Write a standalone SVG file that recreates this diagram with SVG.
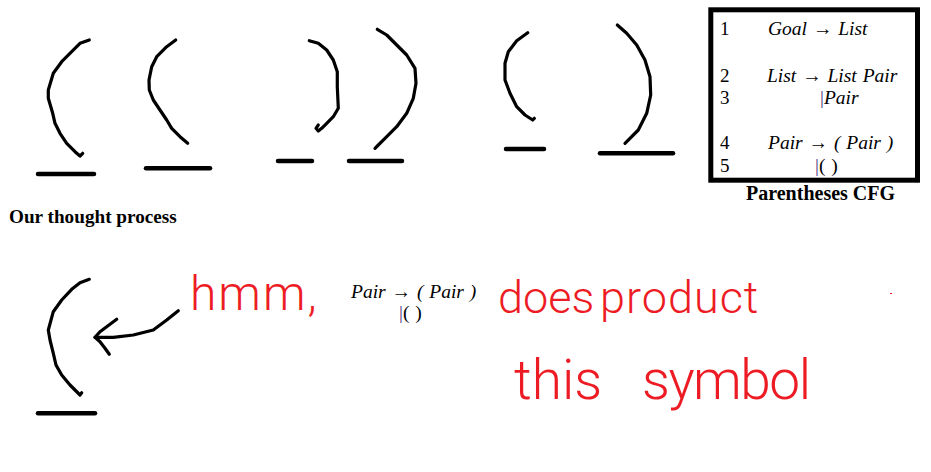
<svg xmlns="http://www.w3.org/2000/svg" width="931" height="472" viewBox="0 0 931 472">
<style>
.stroke{fill:none;stroke:#000;stroke-width:3.2;stroke-linecap:round;stroke-linejoin:round}
.bar{stroke:#000;stroke-width:4.5;stroke-linecap:round}
.serif{font-family:"Liberation Serif","Times New Roman",serif;fill:#000}
.num{font-size:19px}
.rule{font-size:19.5px;font-style:italic;word-spacing:1px}
.pipe{fill:#4b2e83;font-style:normal}
.title{font-weight:bold}
.hand{font-family:Roboto,"Liberation Sans","DejaVu Sans",sans-serif;font-weight:300;fill:#ed1c24}
</style>
<rect width="931" height="472" fill="#fff"/>

<g id="sketch-row">
  <polyline class="stroke" points="89.3,40 80,43.3 71.7,51.7 61.7,61.7 53.3,73.3 48.3,90 48.3,98.3 52.7,113.3 55,123.3 60,133.3 66.7,143.3 75,151.7 80,156 82.7,153.3"/>
  <line class="bar" x1="38" y1="174" x2="94" y2="174"/>
  <polyline class="stroke" points="175.7,40 166.7,46.7 156.7,56.7 151.7,66.7 149,80 149.3,90 153.3,100 160,110 166.7,120 171.7,128.3 180,136.7 187.7,143.3"/>
  <line class="bar" x1="146" y1="168.3" x2="210" y2="168.3"/>
  <polyline class="stroke" points="309.3,40.7 318.3,43.3 326.7,50 333.3,60 337.3,71.7 337.3,86.7 338.3,108.3 333.3,116.7 326.7,123.3 321.7,128.3 318.3,131 316,128.3 318.3,125"/>
  <line class="bar" x1="278" y1="161" x2="312" y2="161"/>
  <polyline class="stroke" points="377.3,29.3 386.7,35 396.7,45 406.7,55 415,68.3 416,83.3 413.3,98.3 406.7,113.3 396.7,126.7 385,138.3 378.3,145 375,148.3"/>
  <line class="bar" x1="349" y1="161" x2="402" y2="161"/>
  <polyline class="stroke" points="527.7,32.7 516.7,40.7 508.3,51.7 505,63.3 505,80 510,93.3 516.7,106.7 525,115 532.7,120 534.3,118.3"/>
  <line class="bar" x1="506" y1="149" x2="544" y2="149"/>
  <polyline class="stroke" points="617.3,25 626.7,33.3 636.7,45 645,60 650,76.7 650.7,95 646.7,113.3 638.3,130 625,143.3"/>
  <line class="bar" x1="600" y1="153.3" x2="673" y2="153.3"/>
</g>

<g id="cfg-box">
  <rect x="710.8" y="9.8" width="206.7" height="170.4" fill="none" stroke="#000" stroke-width="5"/>
  <text class="serif num" x="720" y="35">1</text>
  <text class="serif rule" x="768" y="35">Goal → List</text>
  <text class="serif num" x="720" y="81.5">2</text>
  <text class="serif rule" x="767" y="81.5">List → List Pair</text>
  <text class="serif num" x="720" y="103.5">3</text>
  <text class="serif rule" x="820" y="103.5"><tspan class="pipe">|</tspan>Pair</text>
  <text class="serif num" x="720" y="149">4</text>
  <text class="serif rule" x="768" y="149">Pair → ( Pair )</text>
  <text class="serif num" x="720" y="171.5">5</text>
  <text class="serif rule" x="815" y="171.5"><tspan class="pipe">|</tspan><tspan font-style="normal">( )</tspan></text>
  <text class="serif title" x="746" y="200" font-size="20">Parentheses CFG</text>
</g>

<g id="label-thought">
  <text class="serif title" x="9" y="223" font-size="19.2">Our thought process</text>
</g>

<g id="sketch-question">
  <polyline class="stroke" points="89.3,279.3 80,282.7 71.7,289.3 61.7,300 53.3,311.7 48.3,330 50,340 53.3,353.3 56,365 61.7,375 70,385 80,395 81.7,392.7"/>
  <line class="bar" x1="38" y1="413.3" x2="95" y2="413.3"/>
</g>

<g id="connectors">
  <polyline class="stroke" points="178.3,310.7 166.7,320 153.3,330 133.3,335 113.3,337.3 95,337.3"/>
  <polyline class="stroke" points="116.7,319.3 100,331.7 95,337.3 100,341.7 105,348.3 109.3,354.3"/>
</g>

<g id="rule-middle">
  <text class="serif rule" x="351" y="297.5" word-spacing="0">Pair → ( Pair )</text>
  <text class="serif rule" x="399" y="319"><tspan class="pipe">|</tspan><tspan font-style="normal">( )</tspan></text>
</g>

<g id="note">
  <text class="hand" x="190" y="310" font-size="48" letter-spacing="2">hmm,</text>
  <text class="hand" y="313" font-size="45"><tspan x="498">does</tspan><tspan x="600" letter-spacing="1">product</tspan></text>
  <text class="hand" y="399" font-size="55"><tspan x="514">this</tspan><tspan x="642" letter-spacing="-1.5">symbol</tspan></text>
  <rect x="890" y="293" width="2" height="1" fill="#ed1c24"/>
</g>
</svg>
